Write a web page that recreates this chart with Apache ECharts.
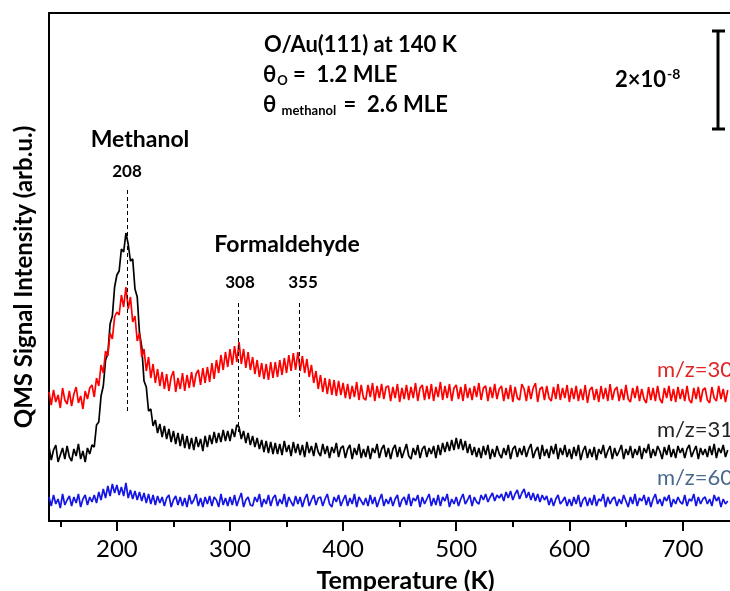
<!DOCTYPE html>
<html><head><meta charset="utf-8">
<script src="https://cdn.jsdelivr.net/npm/echarts@6/dist/echarts.min.js"></script>
<style>html,body{margin:0;padding:0;background:#fff}#c{width:730px;height:591px}</style>
</head><body><div id="c"></div>
<script>
// Temperature grid (K)
const temps = [
140,142,144,146,148,150,152,154,156,158,160,162,164,166,168,170,172,174,176,178,
180,182,184,186,188,190,192,194,196,198,200,202,204,206,208,210,212,214,216,218,
220,222,224,226,228,230,232,234,236,238,240,242,244,246,248,250,252,254,256,258,
260,262,264,266,268,270,272,274,276,278,280,282,284,286,288,290,292,294,296,298,
300,302,304,306,308,310,312,314,316,318,320,322,324,326,328,330,332,334,336,338,
340,342,344,346,348,350,352,354,356,358,360,362,364,366,368,370,372,374,376,378,
380,382,384,386,388,390,392,394,396,398,400,402,404,406,408,410,412,414,416,418,
420,422,424,426,428,430,432,434,436,438,440,442,444,446,448,450,452,454,456,458,
460,462,464,466,468,470,472,474,476,478,480,482,484,486,488,490,492,494,496,498,
500,502,504,506,508,510,512,514,516,518,520,522,524,526,528,530,532,534,536,538,
540,542,544,546,548,550,552,554,556,558,560,562,564,566,568,570,572,574,576,578,
580,582,584,586,588,590,592,594,596,598,600,602,604,606,608,610,612,614,616,618,
620,622,624,626,628,630,632,634,636,638,640,642,644,646,648,650,652,654,656,658,
660,662,664,666,668,670,672,674,676,678,680,682,684,686,688,690,692,694,696,698,
700,702,704,706,708,710,712,714,716,718,720,722,724,726,728,730,732,734,736,738,
740];

// m/z=30 (red), arbitrary units (offset trace)
const mz30 = [
129,116,131,119,126,113,133,121,117,130, 115,127,134,118,125,112,130,122,133,136,
124,143,135,156,148,170,165,188,182,204, 209,206,226,214,234,212,224,199,205,180,
188,164,172,150,164,143,157,138,152,135, 149,132,147,130,144,150,129,143,132,148,
130,146,133,149,134,147,151,136,153,138, 154,139,158,142,161,148,166,151,169,154,
172,156,175,159,179,157,172,153,169,151, 164,147,161,144,158,142,157,141,159,143,
159,144,161,146,163,148,166,150,168,151, 169,150,165,148,162,144,156,138,150,132,
146,129,143,127,142,126,141,125,140,126, 138,123,137,122,135,124,139,121,136,123,
121,136,124,138,120,135,123,137,122,134, 135,120,134,123,137,119,133,122,136,121,
134,123,138,120,133,136,121,135,122,137, 120,134,124,139,121,135,123,137,120,133,
136,122,134,120,137,123,133,121,135,124, 138,121,133,135,120,134,123,137,122,132,
135,120,133,122,136,119,134,123,121,137, 132,120,135,122,133,138,119,132,134,121,
135,123,120,134,122,137,121,133,123,136, 119,133,122,135,120,132,121,136,118,131,
134,121,132,119,135,122,133,120,137,121, 131,134,120,132,121,136,122,119,133,123,
135,120,132,122,118,134,121,133,120,135, 122,118,133,123,135,120,132,119,134,122,
132,120,135,121,118,133,122,134,119,131, 133,121,118,134,123,120,135,122,132,119,
131];

// m/z=31 (black)
const mz31 = [
74,61,71,76,59,66,73,62,75,64, 60,72,65,77,62,70,59,73,67,76,
74,96,99,125,135,161,167,197,205,234, 246,250,272,269,288,277,260,262,232,224,
188,174,140,134,110,112,95,101,88,97, 84,95,82,92,79,90,77,88,75,87,
73,85,72,83,71,84,74,82,70,85, 74,86,77,89,78,88,79,91,80,90,
80,92,84,96,94,82,90,78,88,76, 85,74,83,72,81,69,80,68,79,67,
78,67,77,66,80,69,76,65,79,68, 77,66,76,64,79,68,75,65,78,69,
65,77,67,75,63,74,68,78,64,73, 75,63,72,76,62,73,66,77,63,72,
64,75,62,73,68,77,63,72,76,64, 73,62,72,76,64,74,63,70,77,65,
62,73,66,76,63,72,75,64,73,67, 75,63,76,66,78,69,79,70,81,71,
83,72,82,71,80,68,77,66,74,64, 73,63,75,66,76,62,72,64,75,67,
63,73,66,76,62,72,75,64,73,66, 75,64,72,77,63,70,74,62,76,65,
72,63,75,67,77,62,73,66,76,64, 72,62,74,65,76,61,70,75,63,72,
64,74,61,72,67,76,63,70,75,62, 73,65,70,76,62,72,66,75,63,72,
66,75,62,73,68,77,63,72,65,75, 70,62,74,66,76,64,72,63,75,68,
73,63,72,76,64,70,75,62,73,66, 72,64,75,66,77,63,73,68,76,64,
71];

// m/z=60 (blue)
const mz60 = [
24,15,26,17,22,13,27,16,21,25, 15,24,18,27,14,22,26,16,24,19,
26,18,29,21,32,23,35,25,37,28, 36,26,34,25,38,23,31,22,30,21,
29,20,28,18,27,17,26,16,25,18, 24,15,23,26,14,21,25,16,24,15,
23,14,26,17,21,27,15,23,14,24, 17,25,15,24,21,14,27,16,23,15,
24,16,26,15,22,28,14,21,24,16, 15,24,19,27,14,22,17,26,15,23,
26,15,22,17,27,14,24,19,15,25, 17,24,14,22,27,15,21,26,16,23,
24,15,22,27,17,14,24,19,26,15, 21,26,15,23,17,27,14,24,20,16,
23,15,26,17,24,14,21,27,15,22, 17,24,15,22,26,14,21,24,16,27,
15,23,20,26,14,24,17,22,27,15, 23,16,26,15,24,20,27,14,22,17,
24,15,22,27,17,21,26,15,24,19, 17,26,21,27,19,24,28,20,26,23,
27,20,29,23,30,21,27,31,22,28, 32,23,29,21,28,20,27,19,26,21,
25,16,23,15,22,26,17,20,24,15, 22,15,24,17,26,14,21,24,15,23,
16,26,15,22,20,27,14,24,17,22, 24,15,22,17,26,20,14,24,17,27,
15,23,20,26,16,24,14,22,27,17, 22,15,24,20,26,14,22,17,24,19,
17,26,15,22,20,27,15,24,17,22, 24,17,22,15,26,20,24,14,22,17,
20];

const majorTicks = [200, 300, 400, 500, 600, 700];
const minorTicks = [150, 250, 350, 450, 550, 650, 750];
// Peak markers: [temperature, top, bottom] in trace units
const peakLines = [[209, 331, 109], [307, 218, 89], [361, 218, 104]];

const FONT = 'Lato';
const chart = echarts.init(document.getElementById('c'));
const pair = arr => temps.map((t, i) => [t, arr[i]]);

const dashLines = peakLines.map(p => [
  {coord: [p[0], p[1]], symbol: 'none'},
  {coord: [p[0], p[2]], symbol: 'none'}
]);

chart.setOption({
  animation: false,
  backgroundColor: '#fff',
  grid: {left: 49, right: 0, top: 13, bottom: 70, outerBoundsMode: 'none', containLabel: false},
  xAxis: [
    {type: 'value', min: 140, max: 742, position: 'bottom',
     axisLine: {show: true, lineStyle: {color: '#000', width: 2}},
     axisTick: {show: true, customValues: majorTicks, length: 10, lineStyle: {color: '#000', width: 2}},
     axisLabel: {customValues: majorTicks, color: '#000', fontSize: 24, fontFamily: FONT, margin: 16},
     splitLine: {show: false},
     name: 'Temperature (K)', nameLocation: 'middle', nameGap: 47,
     nameTextStyle: {fontSize: 25, fontWeight: 'bold', color: '#000', fontFamily: FONT, padding: [0, 0, 0, 32]}},
    {type: 'value', min: 140, max: 742, position: 'bottom', gridIndex: 0,
     axisLine: {show: false},
     axisTick: {show: true, customValues: minorTicks, length: 6, lineStyle: {color: '#000', width: 2}},
     axisLabel: {show: false}, splitLine: {show: false}},
    {type: 'value', min: 140, max: 742, position: 'top', gridIndex: 0,
     axisLine: {show: true, lineStyle: {color: '#000', width: 2}},
     axisTick: {show: false}, axisLabel: {show: false}, splitLine: {show: false}}
  ],
  yAxis: {type: 'value', min: 0, max: 508,
    axisLine: {show: true, lineStyle: {color: '#000', width: 2}},
    axisTick: {show: false}, axisLabel: {show: false}, splitLine: {show: false}},
  series: [
    {type: 'line', name: 'm/z=60', data: pair(mz60), showSymbol: false,
     lineStyle: {color: '#1414e6', width: 1.7}},
    {type: 'line', name: 'm/z=31', data: pair(mz31), showSymbol: false,
     lineStyle: {color: '#000', width: 1.7},
     markLine: {silent: true, symbol: 'none', label: {show: false},
       lineStyle: {color: '#000', type: [4, 3], width: 1}, data: dashLines}},
    {type: 'line', name: 'm/z=30', data: pair(mz30), showSymbol: false,
     lineStyle: {color: '#ff0000', width: 1.7}}
  ],
  graphic: [
    {type: 'text', x: 24, y: 277, rotation: Math.PI / 2,
     style: {text: 'QMS Signal Intensity (arb.u.)', fontSize: 24, fontWeight: 'bold', fontFamily: FONT,
       fill: '#000', align: 'center', verticalAlign: 'middle'}},
    {type: 'text', x: 140, y: 140, style: {text: 'Methanol', fontSize: 23, fontWeight: 'bold', fontFamily: FONT, fill: '#000', align: 'center', verticalAlign: 'middle'}},
    {type: 'text', x: 127, y: 172, style: {text: '208', fontSize: 17, fontWeight: 'bold', fontFamily: FONT, fill: '#000', align: 'center', verticalAlign: 'middle'}},
    {type: 'text', x: 287, y: 245, style: {text: 'Formaldehyde', fontSize: 23, fontWeight: 'bold', fontFamily: FONT, fill: '#000', align: 'center', verticalAlign: 'middle'}},
    {type: 'text', x: 240, y: 283, style: {text: '308', fontSize: 17, fontWeight: 'bold', fontFamily: FONT, fill: '#000', align: 'center', verticalAlign: 'middle'}},
    {type: 'text', x: 303, y: 283, style: {text: '355', fontSize: 17, fontWeight: 'bold', fontFamily: FONT, fill: '#000', align: 'center', verticalAlign: 'middle'}},
    {type: 'text', x: 264, y: 45, style: {text: 'O/Au(111) at 140 K', fontSize: 22, fontWeight: 'bold', fontFamily: FONT, fill: '#000', align: 'left', verticalAlign: 'middle'}},
    {type: 'text', x: 263, y: 75, style: {
      text: '{a|θ}{s|O}{a| =  1.2 MLE}', align: 'left', verticalAlign: 'middle',
      rich: {a: {fontSize: 22, fontWeight: 'bold', fontFamily: FONT, color: '#000'},
             s: {fontSize: 13, fontWeight: 'bold', fontFamily: FONT, color: '#000', padding: [11, 0, 0, 1]}}}},
    {type: 'text', x: 263, y: 105, style: {
      text: '{a|θ }{s|methanol}{a| =  2.6 MLE}', align: 'left', verticalAlign: 'middle',
      rich: {a: {fontSize: 22, fontWeight: 'bold', fontFamily: FONT, color: '#000'},
             s: {fontSize: 13, fontWeight: 'bold', fontFamily: FONT, color: '#000', padding: [11, 2, 0, 0]}}}},
    {type: 'text', x: 615, y: 80, style: {
      text: '{a|2×10}{s|-8}', align: 'left', verticalAlign: 'middle',
      rich: {a: {fontSize: 22, fontWeight: 'bold', fontFamily: FONT, color: '#000'},
             s: {fontSize: 14, fontWeight: 'bold', fontFamily: FONT, color: '#000', padding: [0, 0, 12, 1]}}}},
    {type: 'line', shape: {x1: 718, y1: 31, x2: 718, y2: 129}, style: {stroke: '#000', lineWidth: 3}},
    {type: 'line', shape: {x1: 712, y1: 31, x2: 725, y2: 31}, style: {stroke: '#000', lineWidth: 3}},
    {type: 'line', shape: {x1: 712, y1: 129, x2: 725, y2: 129}, style: {stroke: '#000', lineWidth: 3}},
    {type: 'text', x: 657, y: 370, style: {text: 'm/z=30', fontSize: 22, fontFamily: FONT, fill: '#e02525', align: 'left', verticalAlign: 'middle'}},
    {type: 'text', x: 657, y: 430, style: {text: 'm/z=31', fontSize: 22, fontFamily: FONT, fill: '#222', align: 'left', verticalAlign: 'middle'}},
    {type: 'text', x: 657, y: 478, style: {text: 'm/z=60', fontSize: 22, fontFamily: FONT, fill: '#4a6a8c', align: 'left', verticalAlign: 'middle'}}
  ]
});
</script>
</body></html>
